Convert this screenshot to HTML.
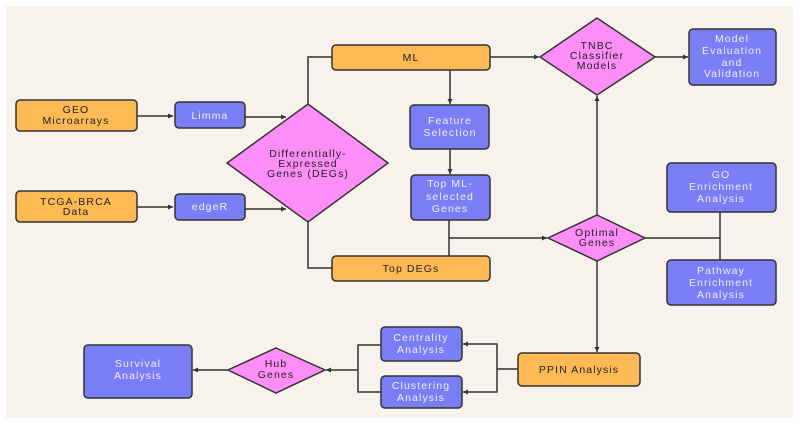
<!DOCTYPE html>
<html><head><meta charset="utf-8"><style>
html,body{margin:0;padding:0;background:#fff}
svg{display:block}
text{font-family:"Liberation Sans",sans-serif;font-size:10.5px;letter-spacing:1.1px;text-anchor:middle}
.o{fill:#fdb954;stroke:#333;stroke-width:1.5}
.p{fill:#7a7ef4;stroke:#333;stroke-width:1.5}
.k{fill:#fd8ef8;stroke:#333;stroke-width:1.5}
.d{fill:#222}
.w{fill:#f0f0ff}
.l{stroke:#333;stroke-width:1.5;fill:none}
</style></head><body>
<svg width="800" height="425" viewBox="0 0 800 425">
<defs><marker id="a" markerWidth="6" markerHeight="6" refX="5" refY="3" orient="auto" markerUnits="userSpaceOnUse"><path d="M0,0.5 L5,3 L0,5.5z" fill="#333"/></marker></defs>
<rect x="6" y="6" width="787" height="412" fill="#f7f3ec"/>
<g class="l">
<path d="M137,116 H173" marker-end="url(#a)"/>
<path d="M137,207 H173" marker-end="url(#a)"/>
<path d="M245,117 H286" marker-end="url(#a)"/>
<path d="M245,209 H286" marker-end="url(#a)"/>
<path d="M308,104 V57 H332"/>
<path d="M308,222 V268 H332"/>
<path d="M490,57 H539" marker-end="url(#a)"/>
<path d="M450,70 V104" marker-end="url(#a)"/>
<path d="M450,149 V174" marker-end="url(#a)"/>
<path d="M655,57 H688" marker-end="url(#a)"/>
<path d="M449,220 V256"/>
<path d="M449,238 H547" marker-end="url(#a)"/>
<path d="M645,238 H720"/>
<path d="M720,212 V260"/>
<path d="M597,215 V96" marker-end="url(#a)"/>
<path d="M597,261 V352" marker-end="url(#a)"/>
<path d="M518,369 H497 V392 H463" marker-end="url(#a)"/>
<path d="M497,369 V344 H463" marker-end="url(#a)"/>
<path d="M381,345 H358 V392 H381"/>
<path d="M358,370 H326" marker-end="url(#a)"/>
<path d="M228,370 H193" marker-end="url(#a)"/>
</g>
<rect class="o" x="16" y="100" width="121" height="31" rx="4"/>
<text class="d" x="76" y="113">GEO</text><text class="d" x="76" y="124">Microarrays</text>
<rect class="o" x="16" y="191" width="121" height="31" rx="4"/>
<text class="d" x="76" y="205">TCGA-BRCA</text><text class="d" x="76" y="215">Data</text>
<rect class="p" x="175" y="102" width="70" height="26" rx="4"/>
<text class="w" x="210" y="119">Limma</text>
<rect class="p" x="175" y="194" width="70" height="26" rx="4"/>
<text class="w" x="210" y="210">edgeR</text>
<path class="k" d="M308,104 L388,163 L308,222 L227,163Z"/>
<text class="d" x="308" y="157">Differentially-</text><text class="d" x="308" y="167">Expressed</text><text class="d" x="308" y="177">Genes (DEGs)</text>
<rect class="o" x="332" y="45" width="158" height="25" rx="4"/>
<text class="d" x="411" y="61">ML</text>
<rect class="o" x="332" y="256" width="158" height="25" rx="4"/>
<text class="d" x="411" y="272">Top DEGs</text>
<rect class="p" x="410" y="105" width="79" height="44" rx="4"/>
<text class="w" x="450" y="124">Feature</text><text class="w" x="450" y="136">Selection</text>
<rect class="p" x="411" y="175" width="79" height="45" rx="4"/>
<text class="w" x="450" y="187">Top ML-</text><text class="w" x="450" y="200">selected</text><text class="w" x="450" y="212">Genes</text>
<path class="k" d="M597,18 L655,57 L597,95 L540,57Z"/>
<text class="d" x="597" y="49">TNBC</text><text class="d" x="597" y="59">Classifier</text><text class="d" x="597" y="69">Models</text>
<rect class="p" x="689" y="29" width="87" height="56" rx="4"/>
<text class="w" x="732" y="42">Model</text><text class="w" x="732" y="54">Evaluation</text><text class="w" x="732" y="66">and</text><text class="w" x="732" y="77">Validation</text>
<path class="k" d="M597,215 L645,238 L597,261 L548,238Z"/>
<text class="d" x="597" y="236">Optimal</text><text class="d" x="597" y="246">Genes</text>
<rect class="p" x="667" y="163" width="109" height="49" rx="4"/>
<text class="w" x="721" y="178">GO</text><text class="w" x="721" y="190">Enrichment</text><text class="w" x="721" y="202">Analysis</text>
<rect class="p" x="667" y="260" width="109" height="45" rx="4"/>
<text class="w" x="721" y="274">Pathway</text><text class="w" x="721" y="286">Enrichment</text><text class="w" x="721" y="298">Analysis</text>
<rect class="o" x="518" y="353" width="122" height="33" rx="4"/>
<text class="d" x="579" y="373">PPIN Analysis</text>
<rect class="p" x="381" y="327" width="81" height="34" rx="4"/>
<text class="w" x="421" y="341">Centrality</text><text class="w" x="421" y="353">Analysis</text>
<rect class="p" x="381" y="376" width="81" height="32" rx="4"/>
<text class="w" x="421" y="389">Clustering</text><text class="w" x="421" y="401">Analysis</text>
<path class="k" d="M276,348 L325,370 L276,393 L228,370Z"/>
<text class="d" x="276" y="367">Hub</text><text class="d" x="276" y="378">Genes</text>
<rect class="p" x="84" y="345" width="108" height="53" rx="4"/>
<text class="w" x="138" y="367">Survival</text><text class="w" x="138" y="379">Analysis</text>
</svg>
</body></html>
